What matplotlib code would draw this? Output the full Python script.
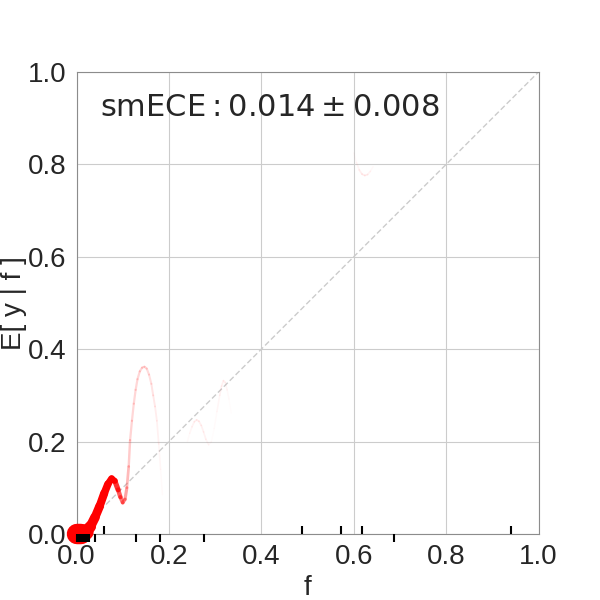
import matplotlib.pyplot as plt
import numpy as np
import seaborn as sns
from matplotlib.collections import LineCollection

# smoothed calibration curve (f, E[y|f], relative density)
f_main = [0.000, 0.010, 0.020, 0.030, 0.040, 0.050, 0.060, 0.068, 0.076, 0.083, 0.090,
          0.095, 0.100, 0.105, 0.109, 0.113, 0.116, 0.120, 0.124, 0.128, 0.132, 0.137,
          0.142, 0.147, 0.152, 0.157, 0.162, 0.166, 0.170, 0.174, 0.178, 0.182, 0.186]
y_main = [0.000, 0.000, 0.004, 0.016, 0.036, 0.060, 0.088, 0.108, 0.120, 0.115, 0.096,
          0.080, 0.068, 0.075, 0.100, 0.146, 0.203, 0.245, 0.282, 0.312, 0.335, 0.352,
          0.360, 0.362, 0.358, 0.345, 0.325, 0.300, 0.276, 0.245, 0.195, 0.140, 0.085]
w_main = [1.00, 0.85, 0.55, 0.42, 0.37, 0.34, 0.31, 0.28, 0.24, 0.20, 0.16,
          0.13, 0.11, 0.09, 0.07, 0.050, 0.040, 0.035, 0.035, 0.035, 0.035, 0.035,
          0.035, 0.035, 0.033, 0.030, 0.026, 0.022, 0.018, 0.014, 0.010, 0.006, 0.003]

f_mid = [0.240, 0.245, 0.250, 0.255, 0.260, 0.265, 0.270, 0.275, 0.280, 0.286,
         0.292, 0.298, 0.304, 0.310, 0.314, 0.318, 0.322, 0.326, 0.330, 0.335]
y_mid = [0.200, 0.218, 0.232, 0.243, 0.247, 0.244, 0.235, 0.221, 0.205, 0.193,
         0.200, 0.228, 0.265, 0.300, 0.320, 0.332, 0.328, 0.312, 0.292, 0.262]
w_mid = [0.002, 0.006, 0.010, 0.013, 0.014, 0.014, 0.013, 0.012, 0.010, 0.006,
         0.002, 0.003, 0.006, 0.010, 0.012, 0.012, 0.010, 0.007, 0.004, 0.002]

f_high = [0.600, 0.606, 0.612, 0.618, 0.624, 0.630, 0.636, 0.642]
y_high = [0.825, 0.804, 0.788, 0.779, 0.776, 0.778, 0.785, 0.795]
w_high = [0.002, 0.006, 0.012, 0.016, 0.016, 0.013, 0.008, 0.003]

# rug of predictions (y=0 drawn below the axis, y=1 above)
rug_neg = [0.000, 0.004, 0.008, 0.012, 0.016, 0.020, 0.024, 0.028,
           0.041, 0.129, 0.180, 0.275, 0.687]
rug_pos = [0.060, 0.489, 0.572, 0.619, 0.940]

smece = 0.014
smece_err = 0.008

sns.set_style("whitegrid")
plt.rcParams['font.family'] = ['Liberation Sans', 'DejaVu Sans']

fig, ax = plt.subplots(figsize=(6, 6), dpi=100)

# diagonal
ax.plot([0, 1], [0, 1], linestyle="--", color="0.8", linewidth=1, dashes=(4, 2))

# the curve: width and opacity follow the density
for fx, fy, fw in [(f_main, y_main, w_main), (f_mid, y_mid, w_mid), (f_high, y_high, w_high)]:
    pts = np.column_stack([fx, fy])
    segs = np.stack([pts[:-1], pts[1:]], axis=1)
    w = (np.array(fw[:-1]) + np.array(fw[1:])) / 2
    lw = (1.5 + 20.5 * w) * 0.72
    cols = [(1, 0, 0, min(1.0, 4.5 * a)) for a in w]
    lc = LineCollection(segs, linewidths=lw, colors=cols, capstyle="round", clip_on=False, zorder=3)
    ax.add_collection(lc)

tr = ax.get_xaxis_transform()
ax.vlines(rug_neg, -0.018, 0, transform=tr, color="black", linewidth=1.5, clip_on=False, zorder=4)
ax.vlines(rug_pos, 0, 0.018, transform=tr, color="black", linewidth=1.5, clip_on=False, zorder=4)

ax.text(0.05, 0.905, r"$\mathrm{smECE}: %.3f \pm %.3f$" % (smece, smece_err),
        transform=ax.transAxes, fontsize=22, color="0.15")

ax.set_xlim(0, 1)
ax.set_ylim(0, 1)
ax.set_aspect("equal")
ax.set_xticks(np.arange(0, 1.01, 0.2))
ax.set_yticks(np.arange(0, 1.01, 0.2))
ax.tick_params(labelsize=20)
ax.set_xlabel("f", fontsize=20)
ax.set_ylabel("E[ y | f ]", fontsize=20, labelpad=1)
for s in ax.spines.values():
    s.set_color("0.55")

plt.savefig("out.png")
